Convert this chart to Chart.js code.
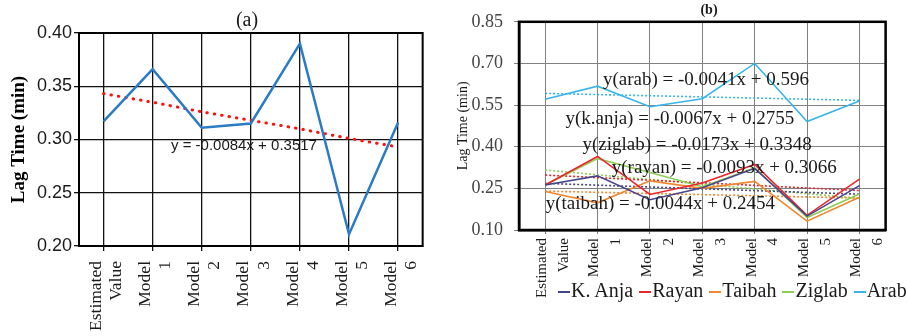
<!DOCTYPE html>
<html>
<head>
<meta charset="utf-8">
<script src="https://cdn.jsdelivr.net/npm/chart.js@4.4.0/dist/chart.umd.min.js"></script>
<style>
  body { margin: 0; background: #fff; width: 907px; height: 336px; overflow: hidden; position: relative; }
  #wrapA { position: absolute; left: 0; top: 0; width: 450px; height: 336px; }
  #wrapB { position: absolute; left: 450px; top: 0; width: 457px; height: 336px; }
  #legendB { position: absolute; left: 558px; top: 279px; font: 20px "Liberation Serif", serif; color: #1a1a1a; white-space: nowrap; }
  #legendB .item { display: inline-block; margin-right: 6px; }
  #legendB .dash { display: inline-block; width: 12px; height: 2px; vertical-align: middle; margin-right: 1px; }
</style>
</head>
<body>
<div id="wrapA"><canvas id="chartA"></canvas></div>
<div id="wrapB"><canvas id="chartB"></canvas></div>
<div id="legendB"></div>

<script>
const categories = [["Estimated", "Value"], ["Model", "1"], ["Model", "2"], ["Model", "3"], ["Model", "4"], ["Model", "5"], ["Model", "6"]];

// panel (a)
const lagA = [0.317, 0.366, 0.311, 0.315, 0.390, 0.211, 0.316];
const trendA = [0.343, 0.335, 0.326, 0.318, 0.310, 0.301, 0.293];
const yTicksA = [0.20, 0.25, 0.30, 0.35, 0.40];
const eqA = "y = -0.0084x + 0.3517";

// panel (b)
const seriesNames = ["K. Anja", "Rayan", "Taibah", "Ziglab", "Arab"];
const kAnja = [0.262, 0.295, 0.209, 0.252, 0.322, 0.150, 0.260];
const rayan = [0.262, 0.365, 0.228, 0.269, 0.336, 0.153, 0.283];
const taibah = [0.239, 0.198, 0.277, 0.250, 0.275, 0.132, 0.218];
const ziglab = [0.262, 0.357, 0.307, 0.256, 0.324, 0.145, 0.230];
const arab = [0.571, 0.618, 0.544, 0.573, 0.700, 0.491, 0.565];
// trend lines, first and last category only
const trendKAnja = [0.268, null, null, null, null, null, 0.229];
const trendRayan = [0.298, null, null, null, null, null, 0.242];
const trendTaibah = [0.240, null, null, null, null, null, 0.215];
const trendZiglab = [0.316, null, null, null, null, null, 0.214];
const trendArab = [0.592, null, null, null, null, null, 0.567];
const yTicksB = [0.10, 0.25, 0.40, 0.55, 0.70, 0.85];
const eqB = [
    "y(arab) = -0.0041x + 0.596",
    "y(k.anja) = -0.0067x + 0.2755",
    "y(ziglab) = -0.0173x + 0.3348",
    "y(rayan) = -0.0093x + 0.3066",
    "y(taibah) = -0.0044x + 0.2454",
];

const colorsB = ["#46458a", "#e8262c", "#f0862e", "#8fcc55", "#38b4e8"];

// frame, title and equation text drawn on top of the lines
function makeNotes(cfg) {
    return {
        id: "notes",
        afterDatasetsDraw(chart) {
            const { ctx, chartArea: a, scales } = chart;
            ctx.save();
            ctx.strokeStyle = "#000";
            ctx.lineWidth = cfg.frameWidth;
            ctx.strokeRect(a.left, a.top, a.right - a.left, a.bottom - a.top);
            ctx.fillStyle = "#1a1a1a";
            ctx.textAlign = "center";
            ctx.textBaseline = "middle";
            ctx.font = cfg.titleFont;
            ctx.fillText(cfg.title, cfg.titleX, cfg.titleY);
            ctx.font = cfg.eqFont;
            cfg.eqs.forEach((e) => {
                ctx.fillText(e.text, scales.x.getPixelForValue(e.at[0]), scales.y.getPixelForValue(e.at[1]));
            });
            ctx.restore();
        },
    };
}

function fixedTicks(list) {
    return (scale) => { scale.ticks = list.map((v) => ({ value: v })); };
}

// chart.js pushes rotated two-line labels to the right of the tick, pull them back
function shiftLabels(dx) {
    return (scale) => {
        if (scale._shifted) return;
        scale._shifted = true;
        const orig = scale._computeLabelItems;
        scale._computeLabelItems = function (area) {
            const items = orig.call(this, area);
            items.forEach((it) => { it.options.translation[0] += dx; });
            return items;
        };
    };
}

// panel (a)
new Chart(document.getElementById("chartA"), {
    type: "line",
    data: {
        labels: categories,
        datasets: [
            {
                data: lagA,
                borderColor: "#2b7bc4",
                borderWidth: 2.5,
                pointRadius: 0,
                tension: 0,
            },
            {
                data: trendA,
                borderColor: "#ff1010",
                borderWidth: 3,
                borderDash: [0.5, 7],
                borderCapStyle: "round",
                pointRadius: 0,
            },
        ],
    },
    options: {
        responsive: true,
        maintainAspectRatio: false,
        animation: false,
        layout: { padding: { top: 33, right: 23, left: 0, bottom: 0 } },
        plugins: { legend: { display: false }, tooltip: { enabled: false } },
        scales: {
            x: {
                offset: true,
                grid: { offset: false, color: "#111", lineWidth: 1.3, tickLength: 5 },
                border: { color: "#000", width: 2 },
                ticks: {
                    maxRotation: 90, minRotation: 90, padding: 10, color: "#1a1a1a",
                    font: { family: "Liberation Serif", size: 17.5, lineHeight: 1.15 },
                },
                afterFit: (s) => { s.height = 90; },
                afterUpdate: shiftLabels(-7),
            },
            y: {
                min: 0.20,
                max: 0.40,
                afterBuildTicks: fixedTicks(yTicksA),
                grid: { color: "#111", lineWidth: 1.3, tickLength: 5 },
                border: { color: "#000", width: 2 },
                ticks: {
                    padding: 2, color: "#1a1a1a",
                    font: { family: "Liberation Sans", size: 18 },
                    callback: (v) => v.toFixed(2),
                },
                title: {
                    display: true, text: "Lag Time (min)", color: "#000",
                    font: { family: "Liberation Serif", size: 19, weight: "bold" },
                    padding: { top: 8, bottom: 0 },
                },
                afterFit: (s) => { s.width = 79; },
            },
        },
    },
    plugins: [makeNotes({
        frameWidth: 2,
        title: "(a)", titleX: 247, titleY: 21,
        titleFont: "20px 'Liberation Serif'",
        eqFont: "15px 'Liberation Sans'",
        eqs: [{ text: eqA, at: [2.86, 0.294] }],
    })],
});

// panel (b)
const lineSets = [kAnja, rayan, taibah, ziglab, arab].map((d, i) => ({
    label: seriesNames[i],
    data: d,
    borderColor: colorsB[i],
    borderWidth: 1.6,
    pointRadius: 0,
    order: 1,
}));
const trendSets = [trendKAnja, trendRayan, trendTaibah, trendZiglab, trendArab].map((d, i) => ({
    data: d,
    borderColor: colorsB[i],
    borderWidth: 1.6,
    borderDash: [2, 2],
    spanGaps: true,
    pointRadius: 0,
    order: 2,
}));

new Chart(document.getElementById("chartB"), {
    type: "line",
    data: { labels: categories, datasets: lineSets.concat(trendSets) },
    options: {
        responsive: true,
        maintainAspectRatio: false,
        animation: false,
        layout: { padding: { top: 18, right: 1, left: 0, bottom: 0 } },
        plugins: { legend: { display: false }, tooltip: { enabled: false } },
        scales: {
            x: {
                offset: true,
                grid: { offset: false, color: "#808080", lineWidth: 1, tickLength: 4 },
                border: { color: "#000", width: 2.5 },
                ticks: {
                    maxRotation: 90, minRotation: 90, padding: 4, color: "#1a1a1a",
                    font: { family: "Liberation Serif", size: 15, lineHeight: 1.45 },
                },
                afterFit: (s) => { s.height = 106; },
                afterUpdate: shiftLabels(-3),
            },
            y: {
                min: 0.10,
                max: 0.85,
                afterBuildTicks: fixedTicks(yTicksB),
                grid: { color: "#808080", lineWidth: 1, tickLength: 5 },
                border: { color: "#000", width: 2.5 },
                ticks: {
                    padding: 11, color: "#444",
                    font: { family: "Liberation Serif", size: 18 },
                    callback: (v) => v.toFixed(2),
                },
                title: {
                    display: true, text: "Lag Time (min)", color: "#1a1a1a",
                    font: { family: "Liberation Serif", size: 14 },
                    padding: { top: 5, bottom: 0 },
                },
                afterFit: (s) => { s.width = 69; },
            },
        },
    },
    plugins: [makeNotes({
        frameWidth: 2.5,
        title: "(b)", titleX: 259, titleY: 10,
        titleFont: "bold 14px 'Liberation Serif'",
        eqFont: "19px 'Liberation Serif'",
        eqs: [
            { text: eqB[0], at: [3.07, 0.640] },
            { text: eqB[1], at: [2.57, 0.499] },
            { text: eqB[2], at: [2.90, 0.407] },
            { text: eqB[3], at: [3.42, 0.323] },
            { text: eqB[4], at: [2.20, 0.195] },
        ],
    })],
});

document.getElementById("legendB").innerHTML = seriesNames.map((n, i) =>
    `<span class="item"><span class="dash" style="background:${colorsB[i]}"></span>${n}</span>`
).join("");
</script>
</body>
</html>
